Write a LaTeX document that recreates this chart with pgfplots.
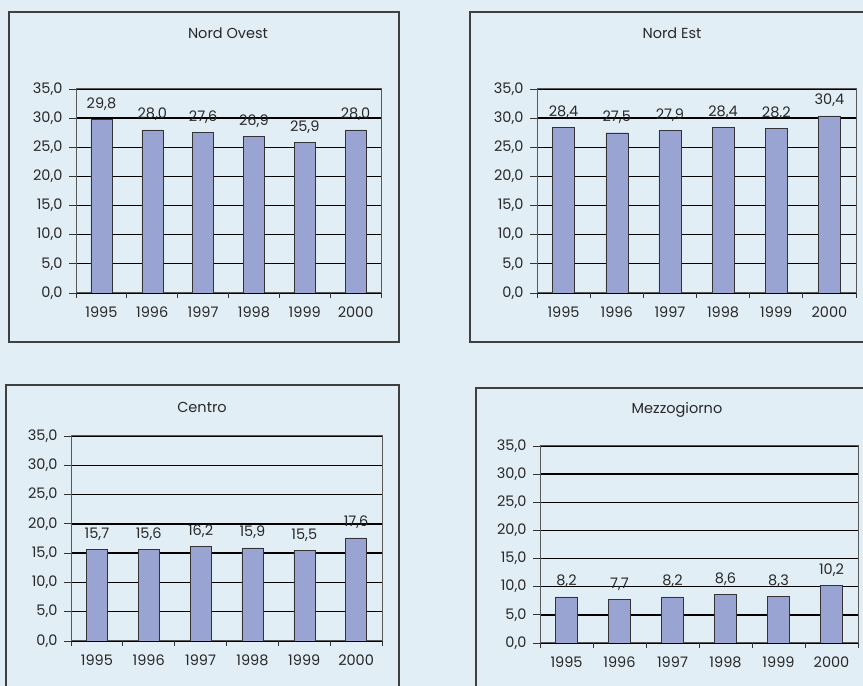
\documentclass[border=0pt]{standalone}
\usepackage{pgfplots}
\pgfplotsset{compat=1.18}
\usepackage{fontspec}
\setmainfont{Poppins}
\definecolor{bg}{RGB}{225,238,246}
\definecolor{barc}{RGB}{153,164,210}
\definecolor{txt}{RGB}{40,40,40}
\newcommand\f{\fontsize{14.5bp}{17bp}\selectfont}
\pgfplotsset{panel/.style={
  scale only axis, anchor=south west,
  ymin=0, ymax=35, ytick={0,5,...,35},
  xmin=-0.5, xmax=5.5, xtick={0,...,5},
  xticklabels={1995,1996,1997,1998,1999,2000},
  major x tick style={draw=none},
  minor xtick={-0.5,0.5,...,5.5},
  minor x tick style={black!80, line width=0.9bp},
  minor tick length=5bp,
  major tick length=7bp,
  y tick style={black!80, line width=0.9bp},
  tick align=outside, tick pos=left,
  ymajorgrids, grid style={black, line width=1.3bp},
  axis line style={black!65, line width=1bp},
  ybar, bar width=21bp,
  /pgf/number format/fixed, /pgf/number format/fixed zerofill,
  /pgf/number format/precision=1, /pgf/number format/use comma,
  /pgf/number format/assume math mode=true,
  tick label style={font=\f, text=txt},
  yticklabel style={xshift=-3bp},
  xticklabel style={yshift=-3bp},
  nodes near coords,
  every node near coord/.append style={font=\f, text=txt, anchor=base, yshift=11bp},
}}
\begin{document}
\begin{tikzpicture}[x=1bp,y=1bp]
\useasboundingbox (0,0) rectangle (863,686);
\clip (0,0) rectangle (863,686);
\fill[bg] (0,0) rectangle (863,686);
\draw[black!75, line width=1.5bp] (9,344) rectangle (399,674);
\draw[black!75, line width=1.5bp] (470,344) rectangle (880,674);
\draw[black!75, line width=1.5bp] (6,-10) rectangle (399,301);
\draw[black!75, line width=1.5bp] (476,-10) rectangle (880,298);
\node[font=\f, text=txt] at (228,653) {Nord Ovest};
\node[font=\f, text=txt] at (672,653) {Nord Est};
\node[font=\f, text=txt] at (202,279) {Centro};
\node[font=\f, text=txt] at (677,276) {Mezzogiorno};

\begin{axis}[panel, at={(76bp,393bp)}, width=305bp, height=204bp]
\addplot[fill=barc, draw=black!80] coordinates {(0,29.8) (1,28.0) (2,27.6) (3,26.9) (4,25.9) (5,28.0)};
\end{axis}
\begin{axis}[panel, at={(537bp,393bp)}, width=319bp, height=204bp, bar width=22bp]
\addplot[fill=barc, draw=black!80] coordinates {(0,28.4) (1,27.5) (2,27.9) (3,28.4) (4,28.2) (5,30.4)};
\end{axis}
\begin{axis}[panel, at={(71bp,45bp)}, width=311bp, height=205bp]
\addplot[fill=barc, draw=black!80] coordinates {(0,15.7) (1,15.6) (2,16.2) (3,15.9) (4,15.5) (5,17.6)};
\end{axis}
\begin{axis}[panel, at={(540bp,43bp)}, width=318bp, height=197bp, bar width=22bp]
\addplot[fill=barc, draw=black!80] coordinates {(0,8.2) (1,7.7) (2,8.2) (3,8.6) (4,8.3) (5,10.2)};
\end{axis}
\end{tikzpicture}
\end{document}
